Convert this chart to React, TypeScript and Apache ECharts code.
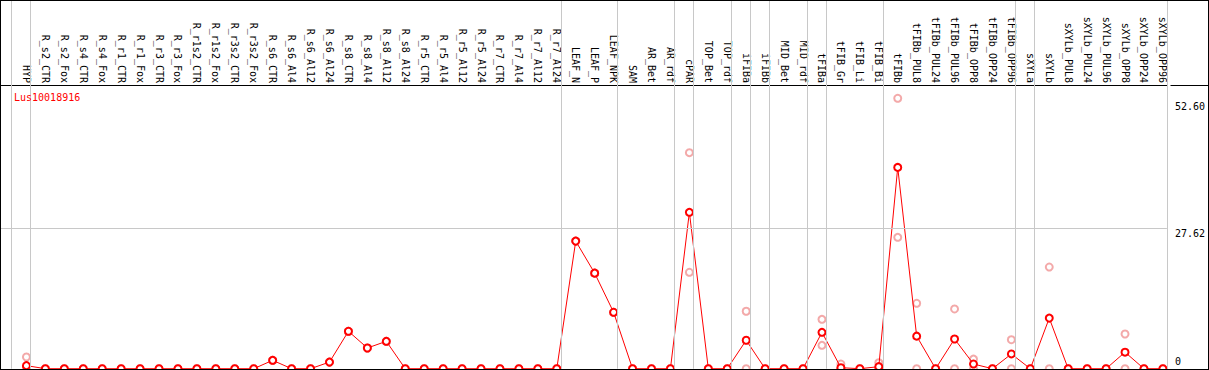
import React, { useEffect, useRef } from "react";
import * as echarts from "echarts";

const categories = [
  "HYP",
  "R_s2_CTR", "R_s2_Fox", "R_s4_CTR", "R_s4_Fox", "R_r1_CTR", "R_r1_Fox", "R_r3_CTR", "R_r3_Fox",
  "R_r1s2_CTR", "R_r1s2_Fox", "R_r3s2_CTR", "R_r3s2_Fox",
  "R_s6_CTR", "R_s6_Al4", "R_s6_Al12", "R_s6_Al24",
  "R_s8_CTR", "R_s8_Al4", "R_s8_Al12", "R_s8_Al24",
  "R_r5_CTR", "R_r5_Al4", "R_r5_Al12", "R_r5_Al24",
  "R_r7_CTR", "R_r7_Al4", "R_r7_Al12", "R_r7_Al24",
  "LEAF_N", "LEAF_P", "LEAF_NPK",
  "SAM", "AR_Bet", "AR_rdf",
  "cPAR",
  "TOP_Bet", "TOP_rdf",
  "iFIBa",
  "iFIBb",
  "MID_Bet", "MID_rdf",
  "tFIBa",
  "tFIB_Gr", "tFIB_Li", "tFIB_Bi",
  "tFIBb", "tFIBb_PUL8", "tFIBb_PUL24", "tFIBb_PUL96", "tFIBb_OPP8", "tFIBb_OPP24", "tFIBb_OPP96",
  "sXYLa",
  "sXYLb", "sXYLb_PUL8", "sXYLb_PUL24", "sXYLb_PUL96", "sXYLb_OPP8", "sXYLb_OPP24", "sXYLb_OPP96",
];

// number of categories in each group (grey separators between groups)
const groupSizes = [1, 28, 3, 3, 1, 2, 1, 1, 2, 1, 3, 7, 1, 7];

const meanValues = [
  0.6,
  0, 0, 0, 0, 0, 0, 0, 0,
  0, 0, 0, 0,
  1.65, 0, 0, 1.3,
  7.36, 4.07, 5.39, 0,
  0, 0, 0, 0,
  0, 0, 0, 0,
  25.1, 18.8, 11.1,
  0, 0, 0,
  30.77,
  0, 0,
  5.6,
  0,
  0, 0,
  7.16,
  0.2, 0, 0.4,
  39.6, 6.4, 0, 5.84, 0.92, 0, 2.9,
  0,
  9.95, 0, 0, 0, 3.25, 0, 0,
];

const replicateA = [
  2.3,
  0, 0, 0, 0, 0, 0, 0, 0,
  0, 0, 0, 0,
  1.65, 0, 0, 1.3,
  7.36, 4.07, 5.39, 0,
  0, 0, 0, 0,
  0, 0, 0, 0,
  25.1, 18.8, 11.1,
  0, 0, 0,
  42.5,
  0, 0,
  11.3,
  0,
  0, 0,
  9.72,
  0.92, 0, 1.18,
  53.2, 12.87, 0, 11.75, 1.9, 0, 5.7,
  0,
  20.0, 0, 0, 0, 6.83, 0, 0,
];

const replicateB = [
  0,
  0, 0, 0, 0, 0, 0, 0, 0,
  0, 0, 0, 0,
  1.65, 0, 0, 1.3,
  7.36, 4.07, 5.39, 0,
  0, 0, 0, 0,
  0, 0, 0, 0,
  25.1, 18.8, 11.1,
  0, 0, 0,
  18.97,
  0, 0,
  0,
  0,
  0, 0,
  4.6,
  0, 0, 0,
  25.85, 0, 0, 0, 0, 0, 0,
  0,
  0, 0, 0, 0, 0, 0, 0,
];

const geneName = "Lus10018916";
const yTickLabels = [27.62, 52.6];
const yZeroLabel = [0];
const yGridLines = [27.62];

const FONT = "'DejaVu Sans Mono', 'Liberation Mono', monospace";
const RED = "#ff0000";
const PINK = "#f09494";
const GRAY = "#c8c8c8";

// layout (px inside the chart box)
const CHART_W = 1207;
const CHART_H = 368;
const STEP = 19;
const FIRST_X = 25.5;
const PLOT_RIGHT = 1169.5;
const ZERO_Y = 367.7;
const PX_PER_UNIT = 5.083;
const HEADER_Y = 84;
const SEP_OFFSET = 4 / 19;

const xMin = -FIRST_X / STEP;
const xMax = (PLOT_RIGHT - FIRST_X) / STEP;
const yMax = ZERO_Y / PX_PER_UNIT;

export default function App() {
  const ref = useRef<HTMLDivElement>(null);

  useEffect(() => {
    if (!ref.current) return;
    const chart = echarts.init(ref.current, undefined, { renderer: "svg" });

    const separators: number[] = [-1];
    let acc = -1;
    groupSizes.forEach((n) => {
      acc += n;
      separators.push(acc);
    });

    const yAxisBase = {
      type: "value",
      position: "right",
      min: 0,
      max: yMax,
      axisLine: { show: false },
      axisTick: { show: false },
      splitLine: { show: false },
    };
    const labelBase = {
      align: "left",
      margin: 8,
      fontFamily: FONT,
      fontSize: 10,
      color: "#000",
    };

    chart.setOption({
      animation: false,
      backgroundColor: "#fff",
      title: {
        text: geneName,
        left: 8,
        top: 86,
        textStyle: { color: RED, fontFamily: FONT, fontSize: 10, fontWeight: "normal" },
      },
      grid: {
        left: 0,
        right: CHART_W - PLOT_RIGHT,
        top: 0,
        bottom: CHART_H - ZERO_Y,
      },
      xAxis: {
        type: "value",
        position: "top",
        offset: -HEADER_Y,
        min: xMin,
        max: xMax,
        axisLine: { show: true, onZero: false, lineStyle: { color: "#000", width: 1 } },
        axisTick: { show: false },
        splitLine: { show: false },
        axisLabel: {
          customValues: categories.map((_, i) => i),
          formatter: (v: number) => categories[Math.round(v)] ?? "",
          rotate: 90,
          margin: 2,
          fontFamily: FONT,
          fontSize: 10,
          color: "#000",
        },
      },
      yAxis: [
        {
          ...yAxisBase,
          axisLabel: {
            ...labelBase,
            customValues: yTickLabels,
            formatter: (v: number) => v.toFixed(2),
            verticalAlign: "top",
          },
        },
        {
          ...yAxisBase,
          axisLabel: {
            ...labelBase,
            customValues: yZeroLabel,
            formatter: (v: number) => String(v),
            verticalAlign: "bottom",
            padding: [0, 0, 2, 0],
          },
        },
      ],
      graphic: [
        {
          type: "line",
          silent: true,
          shape: { x1: PLOT_RIGHT, y1: HEADER_Y + 0.5, x2: CHART_W, y2: HEADER_Y + 0.5 },
          style: { stroke: "#000", lineWidth: 1 },
        },
      ],
      series: [
        {
          type: "line",
          name: "guides",
          data: [],
          silent: true,
          z: 1,
          markLine: {
            silent: true,
            symbol: ["none", "none"],
            label: { show: false },
            lineStyle: { color: GRAY, type: "solid", width: 1 },
            data: [
              ...separators.map((s) => ({ xAxis: s + SEP_OFFSET })),
              ...yGridLines.map((v) => ({ yAxis: v })),
            ],
          },
        },
        {
          type: "scatter",
          name: "replicate A",
          data: replicateA.map((v, i) => [i, v]),
          symbol: "emptyCircle",
          symbolSize: 7,
          itemStyle: { color: PINK, borderWidth: 1.5 },
          z: 2,
          silent: true,
        },
        {
          type: "scatter",
          name: "replicate B",
          data: replicateB.map((v, i) => [i, v]),
          symbol: "emptyCircle",
          symbolSize: 7,
          itemStyle: { color: PINK, borderWidth: 1.5 },
          z: 2,
          silent: true,
        },
        {
          type: "line",
          name: geneName,
          data: meanValues.map((v, i) => [i, v]),
          symbol: "emptyCircle",
          symbolSize: 7,
          showAllSymbol: true,
          itemStyle: { color: RED, borderWidth: 1.5 },
          lineStyle: { color: RED, width: 1 },
          z: 3,
          silent: true,
        },
      ],
    });

    return () => chart.dispose();
  }, []);

  return (
    <div
      style={{
        position: "fixed",
        left: 0,
        top: 0,
        width: 1209,
        height: 370,
        border: "1px solid #000",
        boxSizing: "border-box",
        background: "#fff",
      }}
    >
      <div ref={ref} style={{ width: CHART_W, height: CHART_H, overflow: "hidden" }} />
    </div>
  );
}
